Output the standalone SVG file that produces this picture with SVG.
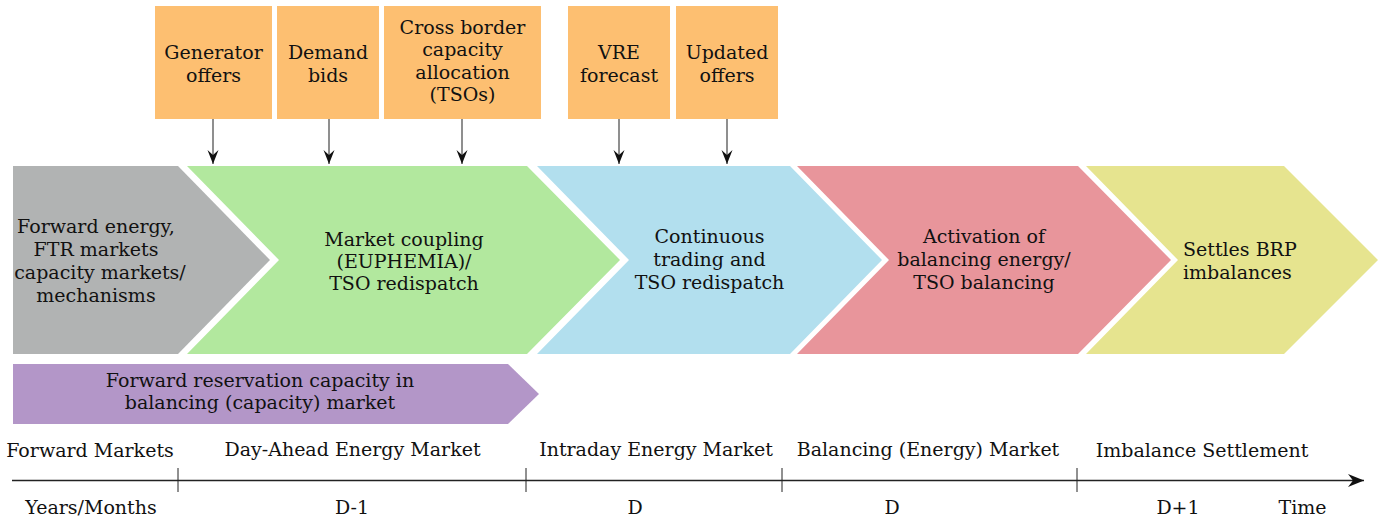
<svg xmlns="http://www.w3.org/2000/svg" width="1385" height="523" viewBox="0 0 1385 523">
<style>
text{font-family:"DejaVu Serif","Liberation Serif",serif;font-size:19px;fill:#111;}
.c{text-anchor:middle;}
.box{fill:#fdbf71;}
.conn{stroke:#333;stroke-width:1.1;fill:none;}
.axis{stroke:#222;stroke-width:1.4;fill:none;}
.tick{stroke:#222;stroke-width:1;}
</style>
<defs>
<marker id="ah" markerUnits="userSpaceOnUse" markerWidth="16" markerHeight="14" viewBox="-15 -7 16 14" refX="0" refY="0" orient="auto">
<path d="M0,0 L-14,-5.5 L-9,0 L-14,5.5 Z" fill="#111"/>
</marker>
<marker id="ah2" markerUnits="userSpaceOnUse" markerWidth="18" markerHeight="16" viewBox="-17 -8 18 16" refX="0" refY="0" orient="auto">
<path d="M0,0 L-16,-6.5 L-11,0 L-16,6.5 Z" fill="#111"/>
</marker>
</defs>
<rect width="1385" height="523" fill="#fff"/>

<g id="gen-offers"><rect class="box" x="155" y="6" width="117" height="113"/><text class="c" x="213.5" y="59">Generator</text><text class="c" x="213.5" y="82">offers</text></g>
<g id="demand-bids"><rect class="box" x="277" y="6" width="102" height="113"/><text class="c" x="328" y="59">Demand</text><text class="c" x="328" y="82">bids</text></g>
<g id="cross-border"><rect class="box" x="384" y="6" width="157" height="113"/><text class="c" x="462.5" y="34">Cross border</text><text class="c" x="462.5" y="56">capacity</text><text class="c" x="462.5" y="79">allocation</text><text class="c" x="462.5" y="101">(TSOs)</text></g>
<g id="vre-forecast"><rect class="box" x="568" y="6" width="102" height="113"/><text class="c" x="619" y="59">VRE</text><text class="c" x="619" y="82">forecast</text></g>
<g id="updated-offers"><rect class="box" x="676" y="6" width="102" height="113"/><text class="c" x="727" y="59">Updated</text><text class="c" x="727" y="82">offers</text></g>

<g id="forward"><polygon points="13,166 178,166 270,260 178,354 13,354" fill="#b1b3b3"/><text class="c" x="96" y="233">Forward energy,</text><text class="c" x="96" y="256">FTR markets</text><text class="c" x="100" y="279">capacity markets/</text><text class="c" x="96" y="302">mechanisms</text></g>
<g id="day-ahead"><polygon points="187,166 527,166 620,260 527,354 187,354 279,260" fill="#b2e89e"/><text class="c" x="404" y="246">Market coupling</text><text class="c" x="404" y="268">(EUPHEMIA)/</text><text class="c" x="404" y="290">TSO redispatch</text></g>
<g id="intraday"><polygon points="537,166 790,166 882,260 790,354 537,354 629,260" fill="#b2dfee"/><text class="c" x="709.5" y="243">Continuous</text><text class="c" x="709.5" y="266">trading and</text><text class="c" x="709.5" y="289">TSO redispatch</text></g>
<g id="balancing"><polygon points="797,166 1078,166 1171,260 1078,354 797,354 889,260" fill="#e8959b"/><text class="c" x="984" y="243">Activation of</text><text class="c" x="984" y="266">balancing energy/</text><text class="c" x="984" y="289">TSO balancing</text></g>
<g id="imbalance"><polygon points="1086,166 1284,166 1378,260 1284,354 1086,354 1178,260" fill="#e6e48f"/><text x="1183" y="256">Settles BRP</text><text x="1183" y="279">imbalances</text></g>
<g id="reservation"><polygon points="13,364 508,364 539,394 508,424 13,424" fill="#b396c8"/><text class="c" x="260" y="387">Forward reservation capacity in</text><text class="c" x="260" y="409">balancing (capacity) market</text></g>

<g id="connectors">
<line class="conn" x1="213" y1="119" x2="213" y2="164" marker-end="url(#ah)"/>
<line class="conn" x1="329" y1="119" x2="329" y2="164" marker-end="url(#ah)"/>
<line class="conn" x1="462" y1="119" x2="462" y2="164" marker-end="url(#ah)"/>
<line class="conn" x1="619" y1="119" x2="619" y2="164" marker-end="url(#ah)"/>
<line class="conn" x1="727" y1="119" x2="727" y2="164" marker-end="url(#ah)"/>
</g>

<g id="timeline">
<line class="axis" x1="12" y1="480.5" x2="1364" y2="480.5" marker-end="url(#ah2)"/>
<line class="tick" x1="178" y1="468" x2="178" y2="492"/>
<line class="tick" x1="526" y1="468" x2="526" y2="492"/>
<line class="tick" x1="782" y1="468" x2="782" y2="492"/>
<line class="tick" x1="1077" y1="468" x2="1077" y2="492"/>
<text class="c" x="90" y="457">Forward Markets</text>
<text class="c" x="352.5" y="456">Day-Ahead Energy Market</text>
<text class="c" x="656" y="456">Intraday Energy Market</text>
<text class="c" x="928" y="456">Balancing (Energy) Market</text>
<text class="c" x="1202" y="457">Imbalance Settlement</text>
<text class="c" x="91" y="514">Years/Months</text>
<text class="c" x="352" y="514">D-1</text>
<text class="c" x="635" y="514">D</text>
<text class="c" x="892" y="514">D</text>
<text class="c" x="1178" y="514">D+1</text>
<text class="c" x="1302.5" y="514">Time</text>
</g>
</svg>
